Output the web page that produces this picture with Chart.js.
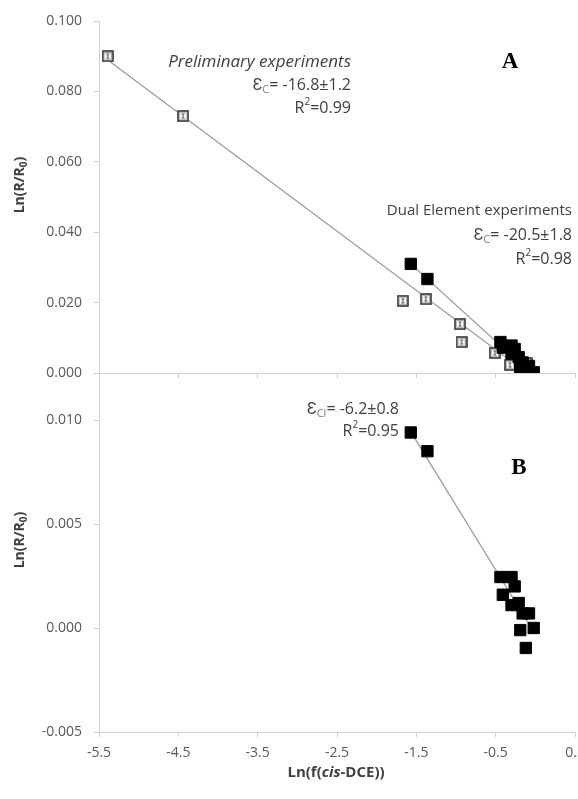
<!DOCTYPE html>
<html>
<head>
<meta charset="utf-8">
<script src="https://cdn.jsdelivr.net/npm/chart.js@4.4.0/dist/chart.umd.min.js"></script>
<style>
    html, body { margin: 0; padding: 0; background: #fff; overflow: hidden; width: 578px; height: 799px; }
    .wrap { position: absolute; left: 0; }
</style>
</head>
<body>
<div class="wrap" style="top:0"><canvas id="chartA" width="620" height="394"></canvas></div>
<div class="wrap" style="top:358px"><canvas id="chartB" width="620" height="441"></canvas></div>
<script>
// preliminary experiments, open squares (panel A)
const prelimX = [-5.39, -4.44, -1.67, -1.38, -0.95, -0.93, -0.51, -0.32, -0.11];
const prelimY = [0.0900, 0.0730, 0.0205, 0.0210, 0.0139, 0.0088, 0.0057, 0.0023, 0.0028];

// dual element experiments, filled squares (same samples in A and B)
const dualX  = [-1.57, -1.36, -0.44, -0.30, -0.26, -0.41, -0.30, -0.21, -0.16, -0.08, -0.19, -0.02, -0.12];
const dualC  = [0.0310, 0.0267, 0.0088, 0.0078, 0.0068, 0.0072, 0.0055, 0.0045, 0.0030, 0.0020, 0.0015, 0.0002, 0.0008];
const dualCl = [0.0094, 0.0085, 0.00245, 0.00245, 0.0020, 0.0016, 0.0011, 0.0012, 0.0007, 0.0007, -0.0001, 0.0000, -0.00096];

// trendline end points
const prelimFitX = [-5.39, -0.11];
const prelimFitY = [0.0889, 0.0001];
const dualCFitX  = [-1.57, -0.02];
const dualCFitY  = [0.0310, -0.0008];
const dualClFitX = [-1.57, -0.02];
const dualClFitY = [0.00943, -0.00018];

// ticks
const xTicks  = [-5.5, -4.5, -3.5, -2.5, -1.5, -0.5, 0.5];
const yTicksA = [0, 0.02, 0.04, 0.06, 0.08, 0.1];
const yTicksB = [-0.005, 0, 0.005, 0.010];

const FONT = "'Open Sans', sans-serif";
const AXIS = '#d0d0d0';
const TEXT = '#404040';

function pts(xs, ys) {
    return xs.map((x, i) => ({x: x, y: ys[i]}));
}

function openSquare() {
    let c = document.createElement('canvas');
    c.width = 12; c.height = 12;
    let g = c.getContext('2d');
    g.fillStyle = '#fff';
    g.fillRect(0, 0, 12, 12);
    g.strokeStyle = '#333';
    g.lineWidth = 1.6;
    g.strokeRect(1, 1, 10, 10);
    g.strokeStyle = '#aaa';
    g.lineWidth = 0.8;
    g.strokeRect(2.6, 2.6, 6.8, 6.8);
    g.strokeStyle = '#444';
    g.lineWidth = 1;
    g.beginPath();
    g.moveTo(6, 4); g.lineTo(6, 8);
    g.moveTo(4.5, 4); g.lineTo(7.5, 4);
    g.moveTo(4.5, 8); g.lineTo(7.5, 8);
    g.stroke();
    return c;
}

// segments: [text, font, colour, dy]
function richText(ctx, segs, x, y, align) {
    let w = 0;
    segs.forEach(s => { ctx.font = s[1]; w += ctx.measureText(s[0]).width; });
    let cx = align === 'right' ? x - w : (align === 'center' ? x - w / 2 : x);
    ctx.textAlign = 'left';
    ctx.textBaseline = 'middle';
    segs.forEach(s => {
        ctx.font = s[1];
        ctx.fillStyle = s[2];
        ctx.fillText(s[0], cx, y + (s[3] || 0));
        cx += ctx.measureText(s[0]).width;
    });
}

function yTitle(ctx, x, y) {
    ctx.save();
    ctx.translate(x, y);
    ctx.rotate(-Math.PI / 2);
    richText(ctx, [
        ['Ln(R/R', 'bold 14px ' + FONT, TEXT],
        ['0', 'bold 10px ' + FONT, TEXT, 4],
        [')', 'bold 14px ' + FONT, TEXT]
    ], 0, 0, 'center');
    ctx.restore();
}

function epsLine(ctx, sub, rest, x, y) {
    richText(ctx, [
        ['\u0190', '16px ' + FONT, TEXT],
        [sub, '11px ' + FONT, '#808080', 5],
        [rest, '16px ' + FONT, TEXT]
    ], x, y, 'right');
}

function r2Line(ctx, val, x, y) {
    richText(ctx, [
        ['R', '16px ' + FONT, TEXT],
        ['2', '10px ' + FONT, TEXT, -6],
        ['=' + val, '16px ' + FONT, TEXT]
    ], x, y, 'right');
}

function xScale(showLabels, height) {
    return {
        type: 'linear',
        min: -5.5,
        max: 0.5,
        afterBuildTicks: axis => { axis.ticks = xTicks.map(v => ({value: v})); },
        afterFit: axis => { axis.height = height; },
        grid: {drawOnChartArea: false, color: AXIS, tickLength: 5},
        border: {color: AXIS, width: 1},
        ticks: {
            display: showLabels,
            padding: 8,
            color: '#595959',
            font: {family: FONT, size: 14},
            callback: v => v.toFixed(1)
        }
    };
}

function yScale(min, max, ticks) {
    return {
        type: 'linear',
        min: min,
        max: max,
        afterBuildTicks: axis => { axis.ticks = ticks.map(v => ({value: v})); },
        afterFit: axis => { axis.width = 99; },
        grid: {drawOnChartArea: false, color: AXIS, tickLength: 5},
        border: {color: AXIS, width: 1},
        ticks: {
            padding: 12,
            color: '#595959',
            font: {family: FONT, size: 14},
            callback: v => v.toFixed(3)
        }
    };
}

function fitLine(xs, ys) {
    return {
        type: 'line',
        data: pts(xs, ys),
        borderColor: '#9a9a9a',
        borderWidth: 1.3,
        pointRadius: 0,
        order: 2
    };
}

const baseOpts = {
    responsive: false,
    animation: false,
    events: [],
    plugins: {legend: {display: false}, tooltip: {enabled: false}}
};

new Chart(document.getElementById('chartA'), {
    type: 'scatter',
    data: {
        datasets: [
            {data: pts(prelimX, prelimY), pointStyle: openSquare(), order: 1},
            {data: pts(dualX, dualC), pointStyle: 'rect', pointRadius: 8,
                backgroundColor: '#000', borderColor: '#000', borderWidth: 1, order: 0},
            fitLine(prelimFitX, prelimFitY),
            fitLine(dualCFitX, dualCFitY)
        ]
    },
    options: Object.assign({}, baseOpts, {
        layout: {padding: {left: 0, right: 45, top: 21, bottom: 0}},
        scales: {x: xScale(false, 21), y: yScale(0, 0.1, yTicksA)}
    }),
    plugins: [{
        id: 'notesA',
        afterDraw(chart) {
            let ctx = chart.ctx;
            yTitle(ctx, 20, 185);
            richText(ctx, [['Preliminary experiments', 'italic 17px ' + FONT, TEXT]], 351, 62, 'right');
            epsLine(ctx, 'C', '= -16.8\u00b11.2', 351, 85);
            r2Line(ctx, '0.99', 351, 108);
            richText(ctx, [['Dual Element experiments', '15px ' + FONT, TEXT]], 572, 211, 'right');
            epsLine(ctx, 'C', '= -20.5\u00b11.8', 572, 235);
            r2Line(ctx, '0.98', 572, 259);
            richText(ctx, [['A', "bold 23px 'Liberation Serif', serif", '#000']], 510, 62, 'center');
        }
    }]
});

new Chart(document.getElementById('chartB'), {
    type: 'scatter',
    data: {
        datasets: [
            {data: pts(dualX, dualCl), pointStyle: 'rect', pointRadius: 8,
                backgroundColor: '#000', borderColor: '#000', borderWidth: 1, order: 0},
            fitLine(dualClFitX, dualClFitY)
        ]
    },
    options: Object.assign({}, baseOpts, {
        layout: {padding: {left: 0, right: 45, top: 20, bottom: 0}},
        scales: {x: xScale(true, 67), y: yScale(-0.005, 0.012, yTicksB)}
    }),
    plugins: [{
        id: 'notesB',
        afterDraw(chart) {
            let ctx = chart.ctx;
            yTitle(ctx, 20, 182);
            epsLine(ctx, 'Cl', '= -6.2\u00b10.8', 399, 51);
            r2Line(ctx, '0.95', 399, 73);
            richText(ctx, [['B', "bold 23px 'Liberation Serif', serif", '#000']], 519, 110, 'center');
            richText(ctx, [
                ['Ln(f(', 'bold 15px ' + FONT, TEXT],
                ['cis', 'italic bold 15px ' + FONT, TEXT],
                ['-DCE))', 'bold 15px ' + FONT, TEXT]
            ], 336, 415, 'center');
        }
    }]
});
</script>
</body>
</html>
